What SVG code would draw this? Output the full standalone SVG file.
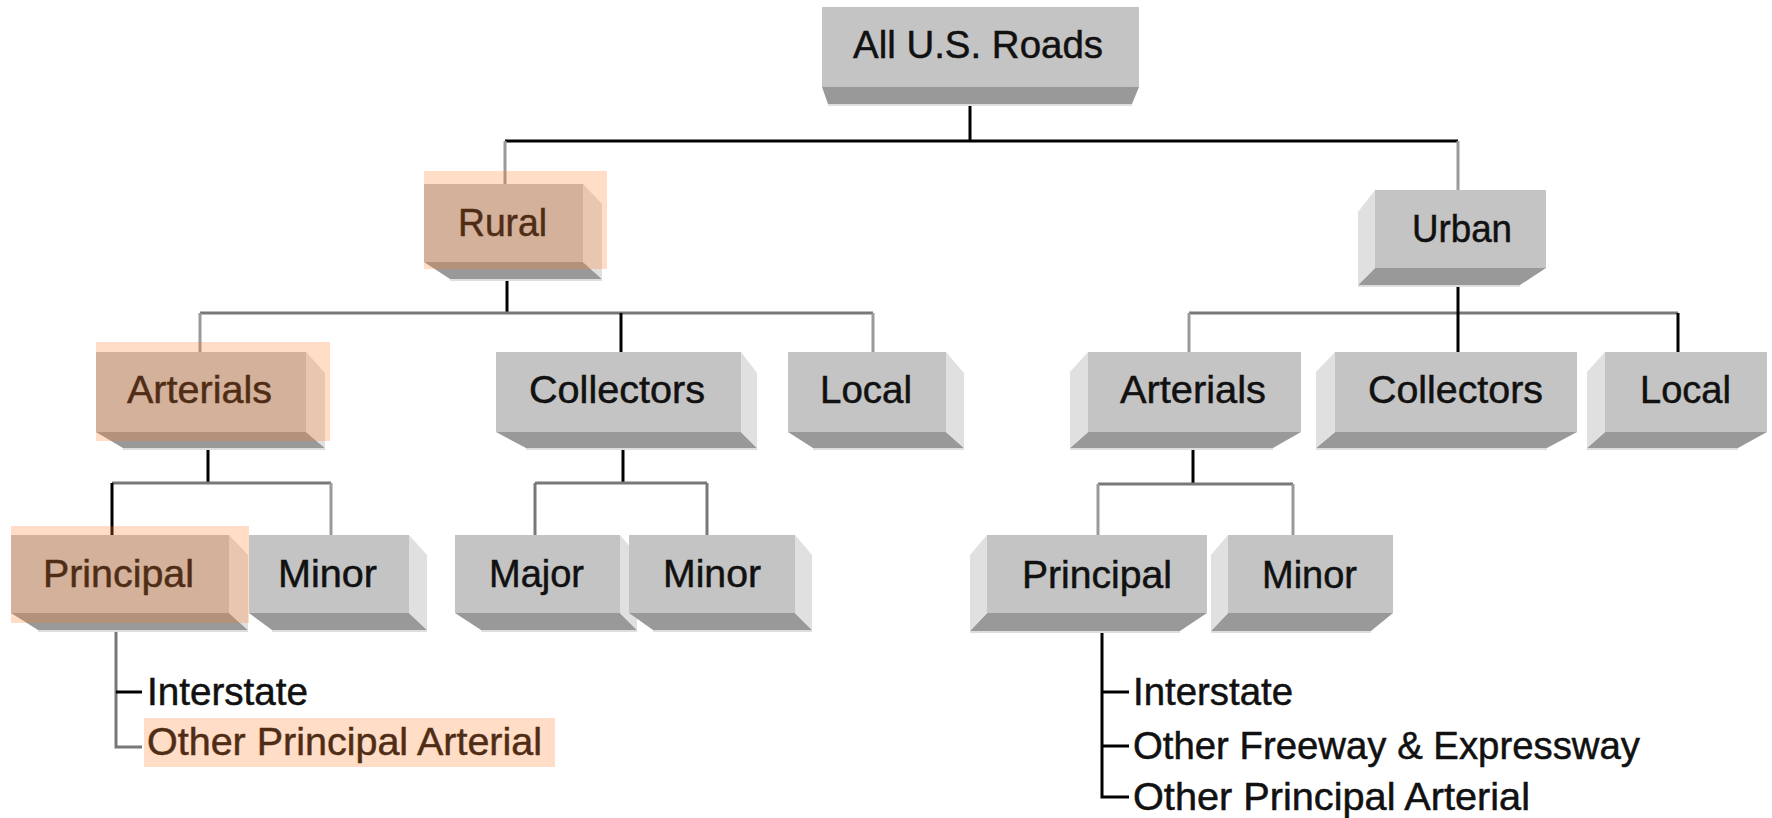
<svg xmlns="http://www.w3.org/2000/svg" width="1772" height="818" viewBox="0 0 1772 818">
<style>
.f{fill:#c4c4c4}
.b{fill:#999999}
.s{fill:#e0e0e0}
.e{stroke:#dedede;stroke-width:2}
.t{font-family:"Liberation Sans",Arial,sans-serif;font-size:38px;fill:#111;stroke:#111;stroke-width:0.5}
.hl{fill:#ff7a25;fill-opacity:0.26}
.k{stroke:#000;stroke-width:3;fill:none}
.g{stroke:#787878;stroke-width:3;fill:none}
.lg{stroke:#9a9a9a;stroke-width:3;fill:none}
</style>
<rect width="1772" height="818" fill="#fff"/>
<g id="connectors">
  <line class="k" x1="970" y1="87" x2="970" y2="141"/>
  <line class="k" x1="505" y1="141" x2="1458" y2="141"/>
  <line class="lg" x1="505" y1="141" x2="505" y2="184"/>
  <line class="lg" x1="1458" y1="141" x2="1458" y2="190"/>
  <line class="k" x1="507" y1="262" x2="507" y2="313"/>
  <line class="g" x1="200" y1="313" x2="873" y2="313"/>
  <line class="lg" x1="200" y1="313" x2="200" y2="352"/>
  <line class="k" x1="621" y1="313" x2="621" y2="352"/>
  <line class="lg" x1="873" y1="313" x2="873" y2="352"/>
  <line class="g" x1="1189" y1="313" x2="1678" y2="313"/>
  <line class="k" x1="1458" y1="268" x2="1458" y2="352"/>
  <line class="lg" x1="1189" y1="313" x2="1189" y2="352"/>
  <line class="k" x1="1678" y1="313" x2="1678" y2="352"/>
  <line class="k" x1="208" y1="432" x2="208" y2="483"/>
  <line class="g" x1="112" y1="483" x2="331" y2="483"/>
  <line class="k" x1="112" y1="483" x2="112" y2="535"/>
  <line class="lg" x1="331" y1="483" x2="331" y2="535"/>
  <line class="k" x1="623" y1="432" x2="623" y2="483"/>
  <line class="g" x1="535" y1="483" x2="707" y2="483"/>
  <line class="g" x1="535" y1="483" x2="535" y2="535"/>
  <line class="g" x1="707" y1="483" x2="707" y2="535"/>
  <line class="k" x1="1193" y1="432" x2="1193" y2="484"/>
  <line class="g" x1="1098" y1="484" x2="1293" y2="484"/>
  <line class="lg" x1="1098" y1="484" x2="1098" y2="535"/>
  <line class="lg" x1="1293" y1="484" x2="1293" y2="535"/>
  <polyline class="g" points="116,613 116,747 142,747"/>
  <line class="k" x1="116" y1="692" x2="142" y2="692"/>
  <polyline class="k" points="1102,613 1102,797 1129,797"/>
  <line class="k" x1="1102" y1="692" x2="1129" y2="692"/>
  <line class="k" x1="1102" y1="746" x2="1129" y2="746"/>
</g>
<g id="node-all">
  <polygon class="b" points="822,87 1139,87 1132,104 828,104"/>
  <line class="e" x1="828" y1="105" x2="1132" y2="105"/>
  <rect class="f" x="822" y="7" width="317" height="80"/>
  <text class="t" x="853" y="58" textLength="250" lengthAdjust="spacingAndGlyphs">All U.S. Roads</text>
</g>
<g id="node-rural">
  <polygon class="b" points="424,262 583,262 602,279 450,279"/>
  <line class="e" x1="450" y1="280" x2="602" y2="280"/>
  <polygon class="s" points="583,184 602,204 602,279 583,262"/>
  <rect class="f" x="424" y="184" width="159" height="78"/>
  <text class="t" x="458" y="236" textLength="89" lengthAdjust="spacingAndGlyphs">Rural</text>
  <rect class="hl" x="424" y="171" width="183" height="98"/>
</g>
<g id="node-urban">
  <polygon class="b" points="1375,268 1546,268 1520,285 1358,285"/>
  <line class="e" x1="1358" y1="286" x2="1520" y2="286"/>
  <polygon class="s" points="1375,190 1358,212 1358,285 1375,268"/>
  <rect class="f" x="1375" y="190" width="171" height="78"/>
  <text class="t" x="1412" y="242" textLength="100" lengthAdjust="spacingAndGlyphs">Urban</text>
</g>
<g id="node-rural-arterials">
  <polygon class="b" points="96,432 306,432 325,448 123,448"/>
  <line class="e" x1="123" y1="449" x2="325" y2="449"/>
  <polygon class="s" points="306,352 325,373 325,448 306,432"/>
  <rect class="f" x="96" y="352" width="210" height="80"/>
  <text class="t" x="127" y="403" textLength="145" lengthAdjust="spacingAndGlyphs">Arterials</text>
  <rect class="hl" x="96" y="342" width="234" height="99"/>
</g>
<g id="node-rural-collectors">
  <polygon class="b" points="496,432 741,432 757,448 526,448"/>
  <line class="e" x1="526" y1="449" x2="757" y2="449"/>
  <polygon class="s" points="741,352 757,373 757,448 741,432"/>
  <rect class="f" x="496" y="352" width="245" height="80"/>
  <text class="t" x="529" y="403" textLength="176" lengthAdjust="spacingAndGlyphs">Collectors</text>
</g>
<g id="node-rural-local">
  <polygon class="b" points="788,432 946,432 964,448 813,448"/>
  <line class="e" x1="813" y1="449" x2="964" y2="449"/>
  <polygon class="s" points="946,352 964,373 964,448 946,432"/>
  <rect class="f" x="788" y="352" width="158" height="80"/>
  <text class="t" x="820" y="403" textLength="92" lengthAdjust="spacingAndGlyphs">Local</text>
</g>
<g id="node-urban-arterials">
  <polygon class="b" points="1088,432 1301,432 1273,448 1070,448"/>
  <line class="e" x1="1070" y1="449" x2="1273" y2="449"/>
  <polygon class="s" points="1088,352 1070,372 1070,448 1088,432"/>
  <rect class="f" x="1088" y="352" width="213" height="80"/>
  <text class="t" x="1120" y="403" textLength="146" lengthAdjust="spacingAndGlyphs">Arterials</text>
</g>
<g id="node-urban-collectors">
  <polygon class="b" points="1335,432 1577,432 1547,448 1316,448"/>
  <line class="e" x1="1316" y1="449" x2="1547" y2="449"/>
  <polygon class="s" points="1335,352 1316,372 1316,448 1335,432"/>
  <rect class="f" x="1335" y="352" width="242" height="80"/>
  <text class="t" x="1368" y="403" textLength="175" lengthAdjust="spacingAndGlyphs">Collectors</text>
</g>
<g id="node-urban-local">
  <polygon class="b" points="1605,432 1767,432 1738,448 1587,448"/>
  <line class="e" x1="1587" y1="449" x2="1738" y2="449"/>
  <polygon class="s" points="1605,352 1587,372 1587,448 1605,432"/>
  <rect class="f" x="1605" y="352" width="162" height="80"/>
  <text class="t" x="1640" y="403" textLength="91" lengthAdjust="spacingAndGlyphs">Local</text>
</g>
<g id="node-rural-principal">
  <polygon class="b" points="11,613 229,613 248,630 38,630"/>
  <line class="e" x1="38" y1="631" x2="248" y2="631"/>
  <polygon class="s" points="229,535 248,555 248,630 229,613"/>
  <rect class="f" x="11" y="535" width="218" height="78"/>
  <text class="t" x="43" y="587" textLength="151" lengthAdjust="spacingAndGlyphs">Principal</text>
  <rect class="hl" x="11" y="526" width="238" height="97"/>
</g>
<g id="node-rural-minor">
  <polygon class="b" points="249,613 409,613 427,630 272,630"/>
  <line class="e" x1="272" y1="631" x2="427" y2="631"/>
  <polygon class="s" points="409,535 427,555 427,630 409,613"/>
  <rect class="f" x="249" y="535" width="160" height="78"/>
  <text class="t" x="278" y="587" textLength="99" lengthAdjust="spacingAndGlyphs">Minor</text>
</g>
<g id="node-collectors-major">
  <polygon class="b" points="455,613 620,613 637,630 481,630"/>
  <line class="e" x1="481" y1="631" x2="637" y2="631"/>
  <polygon class="s" points="620,535 637,555 637,630 620,613"/>
  <rect class="f" x="455" y="535" width="165" height="78"/>
  <text class="t" x="489" y="587" textLength="95" lengthAdjust="spacingAndGlyphs">Major</text>
</g>
<g id="node-collectors-minor">
  <polygon class="b" points="629,613 795,613 812,630 653,630"/>
  <line class="e" x1="653" y1="631" x2="812" y2="631"/>
  <polygon class="s" points="795,535 812,555 812,630 795,613"/>
  <rect class="f" x="629" y="535" width="166" height="78"/>
  <text class="t" x="663" y="587" textLength="98" lengthAdjust="spacingAndGlyphs">Minor</text>
</g>
<g id="node-urban-principal">
  <polygon class="b" points="987,613 1207,613 1180,631 970,631"/>
  <line class="e" x1="970" y1="632" x2="1180" y2="632"/>
  <polygon class="s" points="987,535 970,555 970,631 987,613"/>
  <rect class="f" x="987" y="535" width="220" height="78"/>
  <text class="t" x="1022" y="588" textLength="150" lengthAdjust="spacingAndGlyphs">Principal</text>
</g>
<g id="node-urban-minor">
  <polygon class="b" points="1228,613 1393,613 1371,631 1211,631"/>
  <line class="e" x1="1211" y1="632" x2="1371" y2="632"/>
  <polygon class="s" points="1228,535 1211,555 1211,631 1228,613"/>
  <rect class="f" x="1228" y="535" width="165" height="78"/>
  <text class="t" x="1262" y="588" textLength="95" lengthAdjust="spacingAndGlyphs">Minor</text>
</g>
<g id="leaf-rural-interstate">
  <text class="t" x="147" y="705" textLength="161" lengthAdjust="spacingAndGlyphs">Interstate</text>
</g>
<g id="leaf-rural-other-principal">
  <text class="t" x="147" y="755" textLength="395" lengthAdjust="spacingAndGlyphs">Other Principal Arterial</text>
  <rect class="hl" x="144" y="718" width="411" height="49"/>
</g>
<g id="leaf-urban-interstate">
  <text class="t" x="1133" y="705" textLength="160" lengthAdjust="spacingAndGlyphs">Interstate</text>
</g>
<g id="leaf-urban-freeway">
  <text class="t" x="1133" y="759" textLength="507" lengthAdjust="spacingAndGlyphs">Other Freeway &amp; Expressway</text>
</g>
<g id="leaf-urban-other-principal">
  <text class="t" x="1133" y="810" textLength="397" lengthAdjust="spacingAndGlyphs">Other Principal Arterial</text>
</g>
</svg>
